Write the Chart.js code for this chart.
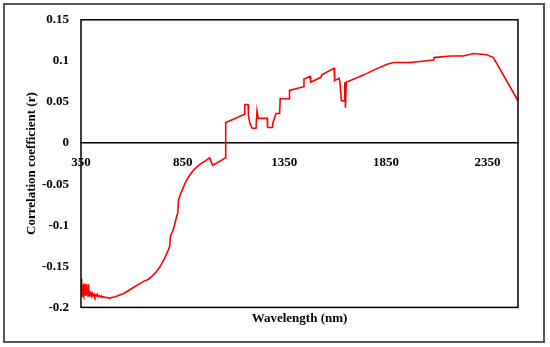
<!DOCTYPE html>
<html>
<head>
<meta charset="utf-8">
<script src="https://cdn.jsdelivr.net/npm/chart.js@4.4.1/dist/chart.umd.min.js"></script>
<style>
  body { margin: 0; background: #fff; }
  #wrap { position: relative; width: 550px; height: 347px; }
  #frame { position: absolute; left: 3px; top: 3px; width: 538px; height: 336px; border: 2px solid #555; }
  canvas { position: absolute; left: 0; top: 0; }
</style>
</head>
<body>
<div id="wrap">
  <div id="frame"></div>
  <canvas id="chart" width="550" height="347"></canvas>
</div>
<script>
// wavelength (nm) and correlation coefficient
const wavelength = [
  350, 352, 354, 356, 358, 360, 362, 364, 366, 368, 370, 372, 375, 378, 381, 384, 387, 390, 393, 396,
  399, 402, 406, 410, 414, 418, 422, 426, 430, 435, 440, 445, 450, 455, 460, 470, 480, 490, 500, 520,
  540, 560, 580, 600, 620, 640, 660, 680, 700, 720, 740, 760, 780, 786, 790, 800, 810, 820, 826, 830,
  840, 850, 860, 870, 880, 900, 920, 940, 960, 982, 985, 997, 1020, 1040, 1061, 1062, 1100, 1154, 1156, 1172,
  1174, 1180, 1192, 1211, 1216, 1222, 1266, 1268, 1272, 1291, 1295, 1309, 1327, 1330, 1374, 1376, 1445, 1447, 1477, 1480,
  1530, 1535, 1595, 1598, 1620, 1625, 1631, 1645, 1648, 1651, 1655, 1742, 1800, 1856, 1889, 1971, 2085, 2087, 2167, 2230,
  2281, 2347, 2379, 2500
];
const correlation = [
  -0.165, -0.183, -0.176, -0.186, -0.172, -0.185, -0.178, -0.187, -0.171, -0.184, -0.175, -0.186, -0.172, -0.185, -0.178, -0.187, -0.172, -0.186, -0.180, -0.185,
  -0.181, -0.186, -0.183, -0.186, -0.184, -0.187, -0.185, -0.186, -0.184, -0.187, -0.186, -0.187, -0.186, -0.188, -0.187, -0.188, -0.188, -0.189, -0.188, -0.187,
  -0.185, -0.183, -0.180, -0.177, -0.174, -0.171, -0.168, -0.166, -0.162, -0.157, -0.150, -0.141, -0.130, -0.126, -0.113, -0.108, -0.100, -0.090, -0.085, -0.069,
  -0.062, -0.056, -0.050, -0.045, -0.041, -0.034, -0.029, -0.025, -0.022, -0.018, -0.019, -0.027, -0.024, -0.021, -0.018, 0.025, 0.029, 0.035, 0.047, 0.047,
  0.033, 0.025, 0.018, 0.018, 0.039, 0.030, 0.030, 0.019, 0.019, 0.019, 0.025, 0.036, 0.036, 0.054, 0.054, 0.064, 0.0685, 0.078, 0.081, 0.074,
  0.080, 0.083, 0.091, 0.076, 0.079, 0.072, 0.0515, 0.0515, 0.074, 0.043, 0.074, 0.083, 0.090, 0.096, 0.098, 0.098, 0.101, 0.104, 0.106, 0.106,
  0.109, 0.1074, 0.104, 0.0515
];

const xTicks = [350, 850, 1350, 1850, 2350];
const yTicks = [-0.2, -0.15, -0.1, -0.05, 0, 0.05, 0.1, 0.15];
const yTickLabels = ["-0.2", "-0.15", "-0.1", "-0.05", "0", "0.05", "0.1", "0.15"];

const font = { family: "'Palatino Linotype', Palatino, 'Liberation Serif', serif", size: 13, weight: "bold" };

// box round the plot area
const plotBox = {
  id: "plotBox",
  afterDraw(chart) {
    const a = chart.chartArea;
    const ctx = chart.ctx;
    ctx.save();
    ctx.strokeStyle = "#000";
    ctx.lineWidth = 1.5;
    ctx.strokeRect(a.left, a.top, a.right - a.left, a.bottom - a.top);
    ctx.restore();
  }
};

new Chart(document.getElementById("chart"), {
  type: "line",
  data: {
    datasets: [{
      data: wavelength.map((w, i) => ({ x: w, y: correlation[i] })),
      borderColor: "#ff0000",
      borderWidth: 1.6,
      pointRadius: 0,
      tension: 0,
      fill: false
    }]
  },
  options: {
    responsive: false,
    animation: false,
    layout: { padding: { left: 0, right: 32, top: 19, bottom: 17 } },
    plugins: { legend: { display: false }, tooltip: { enabled: false } },
    scales: {
      x: {
        type: "linear",
        min: 350,
        max: 2500,
        position: { y: 0 },
        afterBuildTicks: (s) => { s.ticks = xTicks.map(v => ({ value: v })); },
        ticks: { font: font, color: "#000", padding: 12, maxRotation: 0, callback: (v) => String(v) },
        grid: { display: false, drawTicks: false },
        border: { display: true, color: "#000", width: 1.5 }
      },
      x2: {
        type: "linear",
        position: "bottom",
        ticks: { display: false },
        grid: { display: false, drawTicks: false },
        border: { display: false },
        title: { display: true, text: "Wavelength (nm)", font: font, color: "#000", padding: { top: 3, bottom: 4 } }
      },
      y: {
        type: "linear",
        min: -0.2,
        max: 0.15,
        afterBuildTicks: (s) => { s.ticks = yTicks.map(v => ({ value: v })); },
        afterFit: (s) => { s.width = 81; },
        ticks: {
          font: font,
          color: "#000",
          padding: 12,
          callback: (v, i) => yTickLabels[i]
        },
        grid: { display: false, drawTicks: false },
        border: { display: false },
        title: { display: true, text: "Correlation coefficient (r)", font: font, color: "#000", padding: { top: 24, bottom: 0 } }
      }
    }
  },
  plugins: [plotBox]
});
</script>
</body>
</html>
